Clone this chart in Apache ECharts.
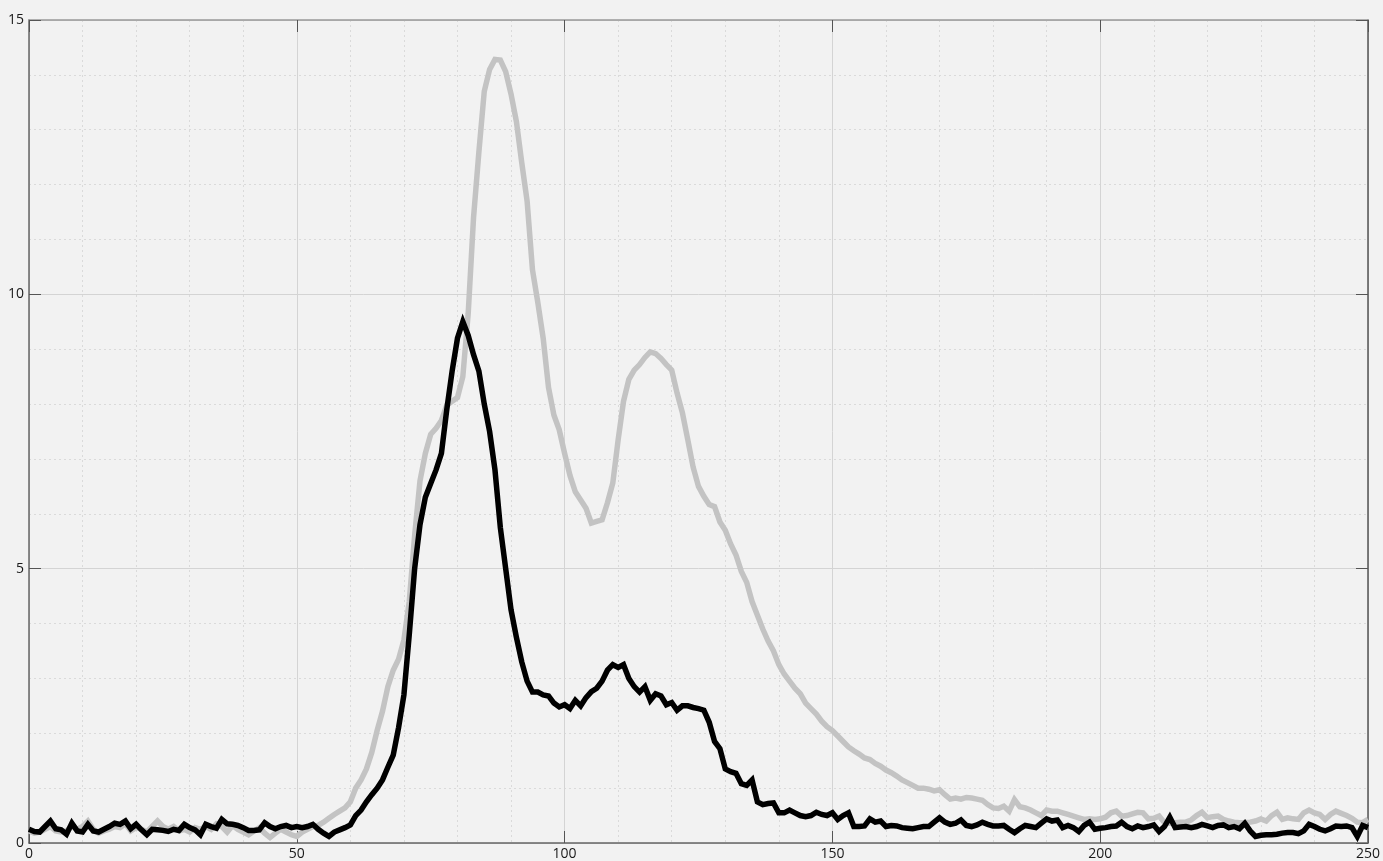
<!DOCTYPE html>
<html>
<head>
<meta charset="utf-8">
<script src="https://cdn.jsdelivr.net/npm/echarts@6/dist/echarts.min.js"></script>
<style>
html,body{margin:0;padding:0;background:#f2f2f2;}
#chart{width:1383px;height:861px;}
</style>
</head>
<body>
<div id="chart"></div>
<script>
// sample positions along x (0..250, one per unit)
const xPositions = Array.from({length: 251}, (_, i) => i);

const grayValues = [
0.22,0.18,0.2,0.25,0.3,0.22,0.2,0.22,0.3,0.25,
0.3,0.4,0.25,0.18,0.22,0.25,0.3,0.28,0.35,0.22,
0.28,0.25,0.2,0.3,0.4,0.3,0.25,0.3,0.22,0.25,
0.2,0.28,0.25,0.3,0.25,0.35,0.3,0.2,0.32,0.25,
0.2,0.15,0.22,0.28,0.18,0.1,0.18,0.25,0.2,0.15,
0.12,0.2,0.25,0.3,0.32,0.38,0.45,0.52,0.58,0.64,
0.75,1.0,1.15,1.35,1.65,2.05,2.4,2.85,3.15,3.35,
3.7,4.4,5.6,6.6,7.1,7.45,7.56,7.7,7.98,8.05,
8.12,8.5,9.65,11.4,12.6,13.7,14.1,14.28,14.27,14.06,
13.65,13.15,12.4,11.7,10.45,9.85,9.2,8.3,7.8,7.53,
7.1,6.7,6.4,6.25,6.1,5.83,5.86,5.89,6.2,6.56,
7.35,8.05,8.45,8.62,8.72,8.85,8.95,8.92,8.83,8.72,
8.62,8.2,7.84,7.35,6.85,6.5,6.32,6.17,6.13,5.85,
5.7,5.45,5.25,4.95,4.75,4.4,4.15,3.9,3.68,3.5,
3.25,3.08,2.95,2.82,2.72,2.55,2.45,2.35,2.22,2.12,
2.05,1.95,1.85,1.75,1.68,1.62,1.55,1.52,1.45,1.4,
1.33,1.28,1.22,1.15,1.1,1.05,1.0,1.0,0.98,0.95,
0.97,0.88,0.8,0.82,0.8,0.83,0.82,0.8,0.78,0.7,
0.64,0.63,0.67,0.58,0.79,0.66,0.64,0.6,0.55,0.5,
0.6,0.58,0.58,0.55,0.52,0.49,0.46,0.43,0.44,0.43,
0.44,0.47,0.55,0.58,0.49,0.5,0.53,0.56,0.55,0.44,
0.45,0.49,0.37,0.36,0.37,0.38,0.38,0.42,0.5,0.56,
0.46,0.48,0.49,0.43,0.4,0.38,0.37,0.37,0.38,0.4,
0.44,0.4,0.5,0.56,0.43,0.46,0.44,0.43,0.55,0.6,
0.55,0.52,0.43,0.52,0.58,0.54,0.5,0.45,0.38,0.37,
0.43
];

const blackValues = [
0.25,0.21,0.2,0.3,0.4,0.26,0.24,0.16,0.36,0.22,
0.2,0.34,0.22,0.2,0.25,0.3,0.36,0.34,0.4,0.26,
0.34,0.24,0.15,0.25,0.24,0.23,0.21,0.25,0.23,0.34,
0.28,0.24,0.15,0.34,0.3,0.27,0.43,0.35,0.34,0.32,
0.28,0.23,0.23,0.24,0.37,0.3,0.26,0.3,0.32,0.28,
0.3,0.28,0.3,0.34,0.25,0.18,0.12,0.2,0.24,0.28,
0.33,0.5,0.6,0.75,0.88,1.0,1.15,1.38,1.6,2.1,
2.7,3.8,5.0,5.8,6.3,6.55,6.8,7.1,7.9,8.6,
9.2,9.5,9.25,8.9,8.6,8.0,7.5,6.8,5.75,5.0,
4.25,3.75,3.3,2.95,2.75,2.75,2.7,2.68,2.55,2.48,
2.52,2.45,2.6,2.5,2.65,2.76,2.82,2.95,3.15,3.25,
3.2,3.25,3.0,2.85,2.75,2.85,2.6,2.72,2.68,2.52,
2.56,2.42,2.5,2.5,2.47,2.45,2.42,2.2,1.85,1.72,
1.35,1.3,1.27,1.08,1.05,1.15,0.75,0.7,0.72,0.73,
0.55,0.55,0.6,0.55,0.5,0.48,0.5,0.56,0.52,0.5,
0.55,0.43,0.5,0.55,0.3,0.3,0.31,0.44,0.38,0.4,
0.3,0.32,0.31,0.28,0.27,0.26,0.28,0.3,0.3,0.38,
0.46,0.38,0.34,0.36,0.42,0.32,0.3,0.33,0.38,0.34,
0.31,0.31,0.32,0.25,0.19,0.26,0.32,0.3,0.28,0.36,
0.44,0.4,0.42,0.28,0.32,0.28,0.21,0.32,0.38,0.25,
0.27,0.28,0.3,0.31,0.38,0.3,0.26,0.31,0.28,0.3,
0.33,0.21,0.3,0.47,0.28,0.29,0.3,0.28,0.3,0.34,
0.31,0.28,0.32,0.33,0.28,0.3,0.26,0.36,0.22,0.12,
0.14,0.15,0.15,0.16,0.18,0.19,0.19,0.17,0.22,0.34,
0.3,0.25,0.22,0.26,0.31,0.3,0.31,0.28,0.12,0.32,
0.28
];

const xTickInterval = 50;
const yTickInterval = 5;

const chart = echarts.init(document.getElementById('chart'), null, {renderer: 'canvas'});

const labelStyle = {color: '#1a1a1a', fontSize: 14, fontFamily: 'Open Sans'};

function xAxisDef(pos, showLabel, lineColor) {
  return {
    type: 'value', position: pos, min: 0, max: 250, interval: xTickInterval,
    axisLine: {show: true, onZero: false, lineStyle: {color: lineColor, width: 1.5}},
    axisTick: {show: true, inside: true, length: 12, lineStyle: {color: '#555', width: 1}},
    axisLabel: Object.assign({show: showLabel, margin: 4}, labelStyle),
    splitLine: {show: pos === 'bottom', lineStyle: {color: '#d4d4d4', width: 1, type: 'solid'}},
    minorTick: {show: pos === 'bottom', splitNumber: 5, length: 0},
    minorSplitLine: {show: pos === 'bottom', lineStyle: {color: '#dadada', width: 1, type: [2, 3]}}
  };
}
function yAxisDef(pos, showLabel, lineColor) {
  return {
    type: 'value', position: pos, min: 0, max: 15, interval: yTickInterval,
    axisLine: {show: true, onZero: false, lineStyle: {color: lineColor, width: 1.5}},
    axisTick: {show: true, inside: true, length: 12, lineStyle: {color: '#555', width: 1}},
    axisLabel: Object.assign({show: showLabel, margin: 5}, labelStyle),
    splitLine: {show: pos === 'left', lineStyle: {color: '#d4d4d4', width: 1, type: 'solid'}},
    minorTick: {show: pos === 'left', splitNumber: 5, length: 0},
    minorSplitLine: {show: pos === 'left', lineStyle: {color: '#dadada', width: 1, type: [2, 3]}}
  };
}

chart.setOption({
  backgroundColor: '#f2f2f2',
  animation: false,
  grid: {left: 29, right: 13, top: 20, bottom: 18, containLabel: false},
  xAxis: [xAxisDef('bottom', true, '#666'), xAxisDef('top', false, '#999')],
  yAxis: [yAxisDef('left', true, '#666'), yAxisDef('right', false, '#555')],
  series: [
    {
      type: 'line', xAxisIndex: 0, yAxisIndex: 0, symbol: 'none', z: 2,
      data: xPositions.map((x, i) => [x, grayValues[i]]),
      lineStyle: {color: '#c3c3c3', width: 5.5, join: 'miter'}
    },
    {
      type: 'line', xAxisIndex: 0, yAxisIndex: 0, symbol: 'none', z: 3,
      data: xPositions.map((x, i) => [x, blackValues[i]]),
      lineStyle: {color: '#000000', width: 5.5, join: 'miter'}
    }
  ]
});
</script>
</body>
</html>
